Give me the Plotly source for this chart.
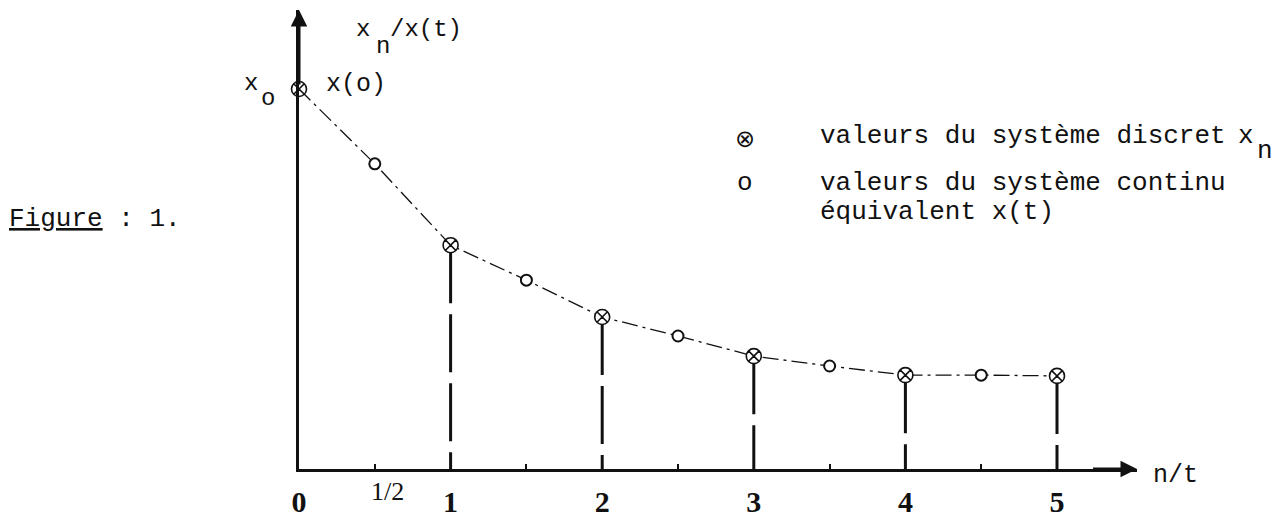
import plotly.graph_objects as go

# ---------------- data ----------------
n_discrete = [0, 1, 2, 3, 4, 5]
x_discrete = [1.0, 0.589, 0.400, 0.297, 0.247, 0.245]
t_continuous = [0.5, 1.5, 2.5, 3.5, 4.5]
x_continuous = [0.803, 0.497, 0.350, 0.271, 0.247]
tick_vals = [0, 1, 2, 3, 4, 5]
tick_text = ["0", "1", "2", "3", "4", "5"]
half_ticks = [0.5, 1.5, 2.5, 3.5, 4.5]

# ---------------- layout geometry ----------------
W, H = 1273, 519
L, T, B = 299, 10, 50
UNIT_X = (1057 - L) / 5.0
R = W - 1137
X_MAX = (W - R - L) / UNIT_X
UNIT_Y = 380.0
Y_MAX = (H - T - B) / UNIT_Y

def px(xp):
    return (xp - L) / (W - L - R)

def py(yp):
    return (H - B - yp) / (H - T - B)

MONO = "Liberation Mono"
SERIF = "Liberation Serif"
INK = "#111111"

fig = go.Figure()

# stems (broken vertical lines) for discrete samples n>=1
sx, sy = [], []
for n, v in zip(n_discrete[1:], x_discrete[1:]):
    sx += [n, n, None]
    sy += [v, 0, None]
fig.add_trace(go.Scatter(x=sx, y=sy, mode="lines", cliponaxis=False,
                         line=dict(color=INK, width=3, dash="58px,11px"),
                         hoverinfo="skip", showlegend=False))

# connecting curve through all values
pts = sorted(zip(n_discrete + t_continuous, x_discrete + x_continuous))
fig.add_trace(go.Scatter(x=[p[0] for p in pts], y=[p[1] for p in pts],
                         mode="lines", cliponaxis=False,
                         line=dict(color=INK, width=1.3, dash="16px,5px,3px,5px"),
                         hoverinfo="skip", showlegend=False))

# continuous system values
fig.add_trace(go.Scatter(x=t_continuous, y=x_continuous, mode="markers",
                         cliponaxis=False, name="valeurs du système continu équivalent x(t)",
                         marker=dict(symbol="circle", size=11, color="white",
                                     line=dict(color=INK, width=2)),
                         showlegend=False))

# discrete system values
fig.add_trace(go.Scatter(x=n_discrete, y=x_discrete, mode="markers",
                         cliponaxis=False, name="valeurs du système discret x_n",
                         marker=dict(symbol="circle-x", size=15, color="white",
                                     line=dict(color=INK, width=1.6)),
                         showlegend=False))

ann = []
# axis arrowheads
ann.append(dict(x=X_MAX, y=0, ax=X_MAX - 0.3, ay=0, xref="x", yref="y",
                axref="x", ayref="y", showarrow=True, arrowhead=2,
                arrowwidth=3, arrowsize=1.1, arrowcolor=INK, text=""))
ann.append(dict(x=0, y=Y_MAX, ax=0, ay=Y_MAX - 0.2, xref="x", yref="y",
                axref="x", ayref="y", showarrow=True, arrowhead=2,
                arrowwidth=3, arrowsize=1.1, arrowcolor=INK, text=""))

def txt(s, xp, yp, size, family=MONO, xanchor="left"):
    ann.append(dict(text=s, x=px(xp), y=py(yp), xref="paper", yref="paper",
                    xanchor=xanchor, yanchor="middle", showarrow=False,
                    font=dict(family=family, size=size, color=INK)))

# y-axis title x_n/x(t)
txt("x", 354, 29.5, 24)
txt("n", 374, 46, 24)
txt("/x(t)", 388, 29.5, 24)
# x_o and x(o)
txt("x", 242, 83.5, 24)
txt("o", 259, 98.5, 24)
txt("x(o)", 324, 84.5, 25)
# figure label
txt("<u>Figure</u> : 1.", 7, 218.5, 26)
# legend
txt("⊗", 745, 139, 24, family="DejaVu Sans", xanchor="center")
txt("o", 745, 182.5, 26, xanchor="center")
txt("valeurs du système discret", 818, 135.5, 26)
txt("x", 1236, 135.5, 26)
txt("n", 1255, 151, 26)
txt("valeurs du système continu", 818, 182.5, 26)
txt("équivalent x(t)", 818, 212, 26)
# axis labels
txt("1/2", 387, 492, 26, family=SERIF, xanchor="center")
txt("n/t", 1151, 475.5, 25)

fig.update_layout(
    width=W, height=H, autosize=False,
    margin=dict(l=L, r=R, t=T, b=B, pad=0, autoexpand=False),
    paper_bgcolor="white", plot_bgcolor="white",
    showlegend=False,
    annotations=ann,
    xaxis=dict(range=[0, X_MAX], showgrid=False, zeroline=False, automargin=False,
               showline=True, linecolor=INK, linewidth=3,
               tickmode="array", tickvals=tick_vals,
               ticktext=["<b>%s</b>" % t for t in tick_text],
               ticks="", ticklabelstandoff=4,
               tickfont=dict(family=SERIF, size=30, color=INK),
               minor=dict(tickmode="array", tickvals=half_ticks, ticks="inside",
                          ticklen=5, tickwidth=1.5, tickcolor=INK),
               fixedrange=True),
    yaxis=dict(range=[0, Y_MAX], showgrid=False, zeroline=False, automargin=False,
               showline=True, linecolor=INK, linewidth=3,
               showticklabels=False, ticks="", fixedrange=True),
)

fig.write_html("out.html",
               config={"responsive": False, "displayModeBar": False},
               post_script="document.body.style.margin='0px';"
                           "document.body.style.overflow='hidden';")
